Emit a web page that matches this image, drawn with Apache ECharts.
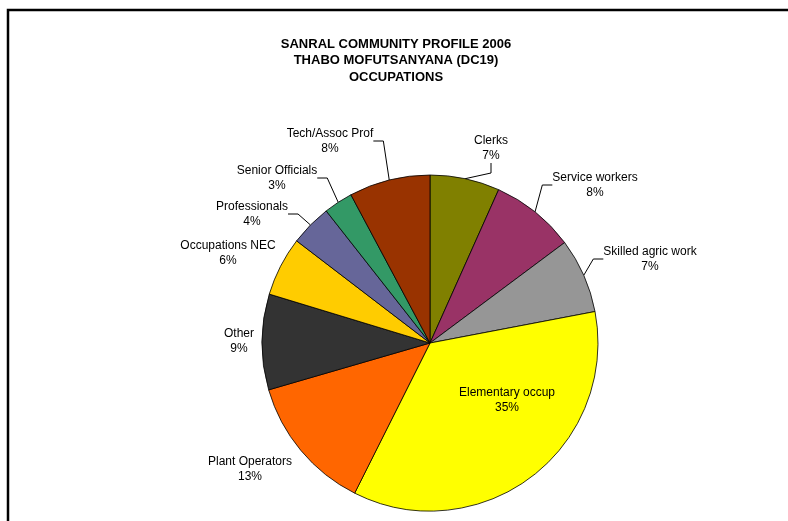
<!DOCTYPE html>
<html>
<head>
<meta charset="utf-8">
<script src="https://cdn.jsdelivr.net/npm/echarts@6/dist/echarts.min.js"></script>
<style>
html,body{margin:0;padding:0;background:#fff;}
#chart{width:788px;height:521px;}
</style>
</head>
<body>
<div id="chart"></div>
<script>
// ---- data ----
var categories = ['Clerks', 'Service workers', 'Skilled agric work', 'Elementary occup', 'Plant Operators', 'Other', 'Occupations NEC', 'Professionals', 'Senior Officials', 'Tech/Assoc Prof'];
var shares = [6.7, 8.1, 7.2, 35.4, 13.1, 9.2, 5.7, 4.0, 2.8, 7.8];
var titleLines = ['SANRAL COMMUNITY PROFILE 2006', 'THABO MOFUTSANYANA (DC19)', 'OCCUPATIONS'];

// ---- styling / layout ----
var colors = ['#808000', '#993366', '#969696', '#FFFF00', '#FF6600', '#333333', '#FFCC00', '#666699', '#339966', '#993300'];
var labelPos = [[491, 148], [595, 185], [650, 259], [507, 400], [250, 469], [239, 341], [228, 253], [252, 214], [277, 178], [330, 141]];
var showLine = [true, true, true, false, false, false, false, true, true, true];
var FONT = '"Liberation Sans", Arial, sans-serif';

var total = shares.reduce(function (a, b) { return a + b; }, 0);
var pieData = categories.map(function (c, i) {
  return {
    name: c,
    value: shares[i],
    itemStyle: { color: colors[i] },
    labelLine: { show: showLine[i] }
  };
});

var chart = echarts.init(document.getElementById('chart'), null, { renderer: 'canvas' });
chart.setOption({
  backgroundColor: '#fff',
  animation: false,
  title: {
    text: titleLines.join('\n'),
    left: 391,
    top: 31,
    textAlign: 'center',
    textStyle: { fontFamily: FONT, fontSize: 13, fontWeight: 'bold', color: '#000', lineHeight: 16.5 }
  },
  graphic: [{
    type: 'polyline',
    shape: { points: [[8, 521], [8, 10], [788, 10]] },
    style: { stroke: '#000', lineWidth: 2.5, fill: null }
  }],
  series: [{
    type: 'pie',
    center: [430, 343],
    radius: 168,
    startAngle: 90,
    clockwise: true,
    data: pieData,
    avoidLabelOverlap: false,
    itemStyle: { borderColor: '#000', borderWidth: 0.8 },
    label: {
      show: true,
      position: 'outside',
      fontFamily: FONT,
      fontSize: 12,
      color: '#000',
      lineHeight: 15,
      align: 'center',
      formatter: function (p) {
        return p.name + '\n' + Math.round(p.value / total * 100) + '%';
      }
    },
    labelLine: {
      show: true,
      length: 12,
      length2: 10,
      lineStyle: { color: '#000', width: 1 }
    },
    labelLayout: function (params) {
      var pos = labelPos[params.dataIndex];
      return { x: pos[0], y: pos[1], align: 'center', verticalAlign: 'middle' };
    },
    emphasis: { disabled: true }
  }]
});
</script>
</body>
</html>
